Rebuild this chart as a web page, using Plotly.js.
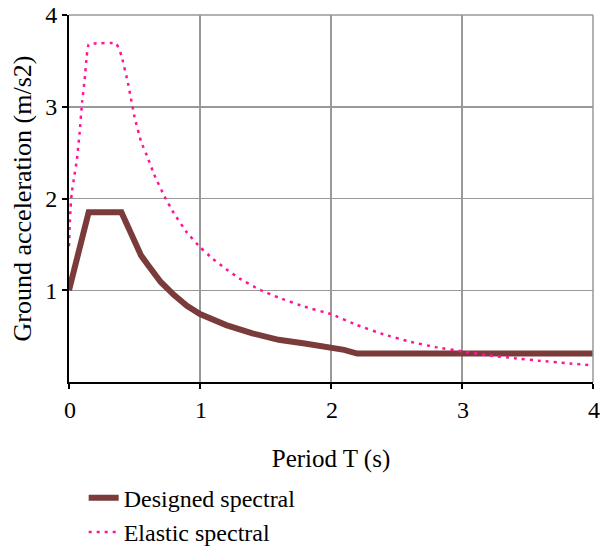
<!DOCTYPE html>
<html>
<head>
<meta charset="utf-8">
<script src="https://cdn.plot.ly/plotly-3.0.1.min.js"></script>
<style>html,body{margin:0;padding:0;background:#fff;}#chart{width:600px;height:547px;}</style>
</head>
<body>
<div id="chart"></div>
<script>
// Designed spectral
const designedT = [0, 0.15, 0.4, 0.45, 0.5, 0.55, 0.6, 0.7, 0.8, 0.9, 1.0, 1.2, 1.4, 1.6, 1.8, 2.0, 2.1, 2.2, 2.5, 3.0, 3.5, 4.0];
const designedA = [1.0, 1.85, 1.85, 1.68, 1.52, 1.38, 1.28, 1.09, 0.95, 0.83, 0.74, 0.62, 0.53, 0.46, 0.42, 0.38, 0.35, 0.31, 0.31, 0.31, 0.31, 0.31];

// Elastic spectral
const elasticT = [0, 0.005, 0.012, 0.02, 0.04, 0.06, 0.08, 0.1, 0.12, 0.135, 0.15, 0.2, 0.36, 0.4, 0.45, 0.5, 0.55, 0.6, 0.65, 0.73, 0.8, 0.9, 1.0, 1.1, 1.2, 1.3, 1.45, 1.6, 1.8, 2.0, 2.2, 2.4, 2.6, 2.8, 3.0, 3.2, 3.4, 3.6, 3.8, 4.0];
const elasticA = [1.48, 1.7, 1.9, 2.05, 2.24, 2.42, 2.70, 3.05, 3.30, 3.55, 3.68, 3.69, 3.69, 3.56, 3.26, 2.89, 2.62, 2.45, 2.26, 2.02, 1.84, 1.63, 1.47, 1.34, 1.23, 1.13, 1.01, 0.92, 0.82, 0.74, 0.62, 0.52, 0.44, 0.38, 0.335, 0.29, 0.26, 0.23, 0.205, 0.18];

const tickVals = [0, 1, 2, 3, 4];
const tickText = ['0', '1', '2', '3', '4'];

const serif = 'Liberation Serif';

const traces = [
  {
    x: designedT, y: designedA, type: 'scatter', mode: 'lines',
    name: 'Designed spectral',
    line: {color: '#7b3b3b', width: 6},
    cliponaxis: true
  },
  {
    x: elasticT, y: elasticA, type: 'scatter', mode: 'lines',
    name: 'Elastic spectral',
    line: {color: '#ff1493', width: 2.5, dash: '3px,5px', shape: 'spline', smoothing: 0.3},
    cliponaxis: false
  }
];

const layout = {
  width: 600, height: 547,
  margin: {l: 69, r: 7, t: 15, b: 165, autoexpand: false},
  paper_bgcolor: '#fff', plot_bgcolor: '#fff',
  font: {family: serif, size: 24, color: '#000'},
  showlegend: true,
  legend: {
    x: 0.028, xanchor: 'left', y: -0.255, yanchor: 'top',
    font: {family: serif, size: 24, color: '#000'},
    bgcolor: 'rgba(0,0,0,0)', tracegroupgap: 0
  },
  xaxis: {
    range: [0, 4], tickvals: tickVals, ticktext: tickText,
    showgrid: true, gridcolor: '#999', gridwidth: 1.5,
    zeroline: false, showline: true, linecolor: '#000', linewidth: 2,
    ticks: 'outside', ticklen: 5, tickwidth: 2, tickcolor: '#000',
    ticklabelshift: 1, ticklabeloverflow: 'allow',
    tickfont: {family: serif, size: 24, color: '#000'},
    title: {text: 'Period T (s)', font: {family: serif, size: 25, color: '#000'}, standoff: 28},
    automargin: false,
    fixedrange: true
  },
  yaxis: {
    range: [0, 4], tickvals: tickVals.slice(1), ticktext: tickText.slice(1),
    showgrid: true, gridcolor: '#999', gridwidth: 1.5,
    zeroline: false, showline: true, linecolor: '#000', linewidth: 2,
    ticks: 'outside', ticklen: 5, tickwidth: 2, tickcolor: '#000',
    ticklabeloverflow: 'allow',
    tickfont: {family: serif, size: 24, color: '#000'},
    title: {text: 'Ground acceleration (m/s2)', font: {family: serif, size: 26, color: '#000'}, standoff: 6},
    automargin: false,
    fixedrange: true
  },
  shapes: [
    {type: 'line', xref: 'paper', yref: 'paper', x0: 0, x1: 1, y0: 1, y1: 1, line: {color: '#999', width: 1.5}},
    {type: 'line', xref: 'paper', yref: 'paper', x0: 1, x1: 1, y0: 0, y1: 1, line: {color: '#999', width: 1.5}}
  ]
};

Plotly.newPlot('chart', traces, layout, {displayModeBar: false, staticPlot: true});
</script>
</body>
</html>
